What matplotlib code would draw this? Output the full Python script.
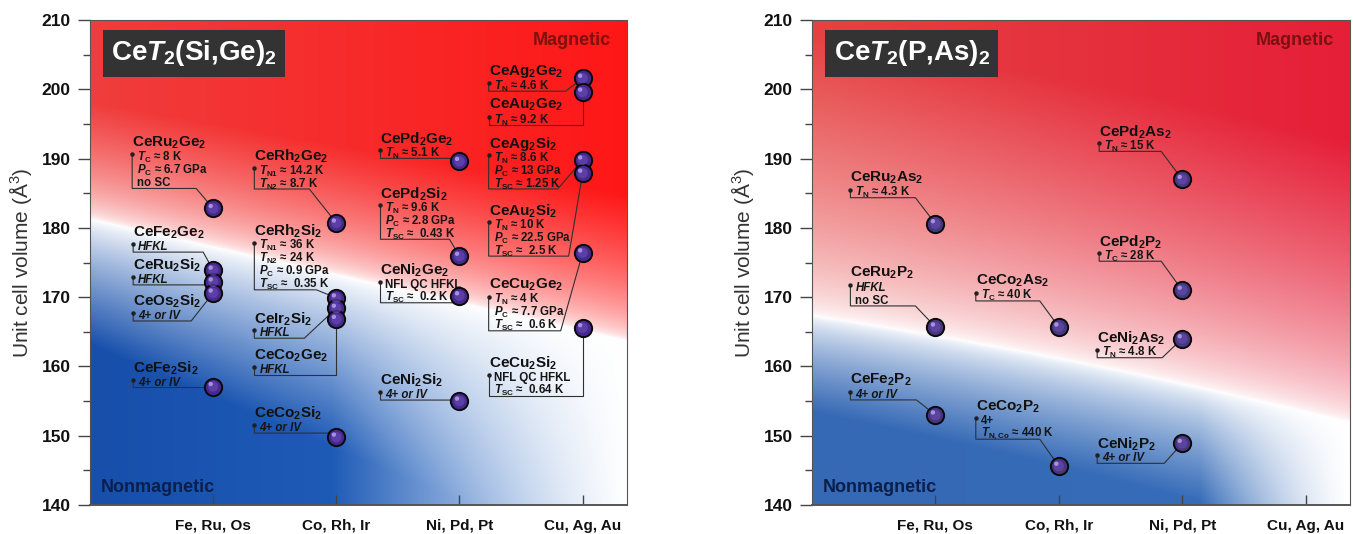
import numpy as np
import matplotlib.pyplot as plt
import matplotlib.transforms as mtransforms
from matplotlib import font_manager
from matplotlib.ticker import MultipleLocator

plt.rcParams['font.family'] = ['Liberation Sans', 'DejaVu Sans']
plt.rcParams['mathtext.fontset'] = 'custom'
plt.rcParams['mathtext.default'] = 'regular'
plt.rcParams['mathtext.it'] = 'Liberation Sans:italic:bold'
plt.rcParams['mathtext.rm'] = 'Liberation Sans'
plt.rcParams['mathtext.bf'] = 'Liberation Sans:bold'

installed = {f.name for f in font_manager.fontManager.ttflist}
NOTE_FONT = 'Liberation Sans Narrow' if 'Liberation Sans Narrow' in installed else 'Liberation Sans'

groups = ["Fe, Ru, Os", "Co, Rh, Ir", "Ni, Pd, Pt", "Cu, Ag, Au"]

# ---- CeT2(Si,Ge)2 ----
sige_names = ["CeRu$_2$Ge$_2$", "CeFe$_2$Ge$_2$", "CeRu$_2$Si$_2$", "CeOs$_2$Si$_2$", "CeFe$_2$Si$_2$",
              "CeRh$_2$Ge$_2$", "CeRh$_2$Si$_2$", "CeIr$_2$Si$_2$", "CeCo$_2$Ge$_2$", "CeCo$_2$Si$_2$",
              "CePd$_2$Ge$_2$", "CePd$_2$Si$_2$", "CeNi$_2$Ge$_2$", "CeNi$_2$Si$_2$",
              "CeAg$_2$Ge$_2$", "CeAu$_2$Ge$_2$", "CeAg$_2$Si$_2$", "CeAu$_2$Si$_2$",
              "CeCu$_2$Ge$_2$", "CeCu$_2$Si$_2$"]
sige_group = [1, 1, 1, 1, 1, 2, 2, 2, 2, 2, 3, 3, 3, 3, 4, 4, 4, 4, 4, 4]
sige_volume = [182.8, 173.9, 172.2, 170.6, 157.1,
               180.7, 169.9, 168.4, 166.8, 149.8,
               189.6, 175.9, 170.2, 155.0,
               201.6, 199.6, 189.8, 187.9, 176.4, 165.6]
sige_notes = [
    [r"$\mathit{T}_C$ ≈ 8 K", r"$\mathit{P}_C$ ≈ 6.7 GPa", "no SC"],
    ["HFKL"], ["HFKL"], ["4+ or IV"], ["4+ or IV"],
    [r"$\mathit{T}_{N1}$ ≈ 14.2 K", r"$\mathit{T}_{N2}$ ≈ 8.7 K"],
    [r"$\mathit{T}_{N1}$ ≈ 36 K", r"$\mathit{T}_{N2}$ ≈ 24 K", r"$\mathit{P}_C$ ≈ 0.9 GPa", r"$\mathit{T}_{SC}$ ≈  0.35 K"],
    ["HFKL"], ["HFKL"], ["4+ or IV"],
    [r"$\mathit{T}_N$ ≈ 5.1 K"],
    [r"$\mathit{T}_N$ ≈ 9.6 K", r"$\mathit{P}_C$ ≈ 2.8 GPa", r"$\mathit{T}_{SC}$ ≈  0.43 K"],
    ["NFL QC HFKL", r"$\mathit{T}_{SC}$ ≈  0.2 K"],
    ["4+ or IV"],
    [r"$\mathit{T}_N$ ≈ 4.6 K"], [r"$\mathit{T}_N$ ≈ 9.2 K"],
    [r"$\mathit{T}_N$ ≈ 8.6 K", r"$\mathit{P}_C$ ≈ 13 GPa", r"$\mathit{T}_{SC}$ ≈ 1.25 K"],
    [r"$\mathit{T}_N$ ≈ 10 K", r"$\mathit{P}_C$ ≈ 22.5 GPa", r"$\mathit{T}_{SC}$ ≈  2.5 K"],
    [r"$\mathit{T}_N$ ≈ 4 K", r"$\mathit{P}_C$ ≈ 7.7 GPa", r"$\mathit{T}_{SC}$ ≈  0.6 K"],
    ["NFL QC HFKL", r"$\mathit{T}_{SC}$ ≈  0.64 K"],
]

# ---- CeT2(P,As)2 ----
pas_names = ["CeRu$_2$As$_2$", "CeRu$_2$P$_2$", "CeFe$_2$P$_2$", "CeCo$_2$As$_2$", "CeCo$_2$P$_2$",
             "CePd$_2$As$_2$", "CePd$_2$P$_2$", "CeNi$_2$As$_2$", "CeNi$_2$P$_2$"]
pas_group = [1, 1, 1, 2, 2, 3, 3, 3, 3]
pas_volume = [180.6, 165.7, 153.0, 165.7, 145.6, 187.0, 171.0, 164.0, 148.9]
pas_notes = [
    [r"$\mathit{T}_N$ ≈ 4.3 K"], ["HFKL", "no SC"], ["4+ or IV"],
    [r"$\mathit{T}_C$ ≈ 40 K"], ["4+", r"$\mathit{T}_{N,Co}$ ≈ 440 K"],
    [r"$\mathit{T}_N$ ≈ 15 K"], [r"$\mathit{T}_C$ ≈ 28 K"], [r"$\mathit{T}_N$ ≈ 4.8 K"], ["4+ or IV"],
]

# label layout: (name x offset, name top offset, elbow x offset) in pixels from the dot
sige_layout = [(-81, -74, -17), (-80, -46, -10), (-80, -25, -8), (-80, 0, -22), (-80, -27, -8),
               (-82, -75, -27), (-82, -75, -20), (-82, 2, -32), (-82, 28, 0), (-82, -32, -8),
               (-79, -31, -8), (-79, -71, -10), (-79, -34, -6), (-79, -29, -8),
               (-94, -15, -17), (-94, 5, 0), (-94, -25, -25), (-94, 29, -14), (-94, 24, -22), (-94, 27, 0)]
pas_layout = [(-85, -54, -20), (-85, -62, -20), (-85, -43, -19),
              (-83, -54, -19), (-83, -68, -19),
              (-83, -56, -21), (-83, -57, -21), (-85, -9, -20), (-85, -8, -18)]

ITALIC_NOTES = {"HFKL", "4+ or IV"}


def background(kind, n=400):
    U, V = np.meshgrid(np.linspace(0, 1, n), np.linspace(0, 1, n))
    if kind == 'sige':
        s = V - (0.59 - 0.25 * U)
        wr = np.clip(s / (0.24 + 0.06 * U), 0, 1) ** 0.55
        wb = np.clip(-s / (0.26 + 0.22 * U), 0, 1) ** 0.8
        wb = wb * (1 - np.clip((U - 0.45) / 0.55, 0, 1)) ** 1.1
        red = np.stack([0.94 + 0.06 * U, 0.24 - 0.15 * U, 0.24 - 0.15 * U], -1)
        blue = np.stack([0.09 + 0.06 * U, 0.31 + 0.1 * U, 0.67 + 0.1 * U], -1)
    else:
        s = V - (0.39 - 0.17 * U - 0.05 * U ** 2)
        wr = np.clip(s / 0.58, 0, 1) ** 0.6
        wb = np.clip(-s / (0.2 + 0.05 * U), 0, 1) ** 0.7
        wb = wb * (1 - np.clip((U - 0.72) / 0.28, 0, 1)) ** 1.3
        red = np.stack([0.90 + 0.0 * U, 0.26 - 0.14 * U, 0.26 - 0.04 * U], -1)
        blue = np.stack([0.21 + 0.0 * U, 0.41 + 0.02 * U, 0.71 + 0.02 * U], -1)
    img = (1 - wr - wb)[..., None] * 1.0 + wr[..., None] * red + wb[..., None] * blue
    return np.clip(img, 0, 1)


def annotate(ax, x, y, name, notes, layout, name_size):
    ndx, ndy, elbow = layout
    tr = mtransforms.Affine2D().scale(1, -1) + mtransforms.ScaledTranslation(x, y, ax.transData)
    ax.text(ndx, ndy, name, transform=tr, fontsize=name_size, fontweight='bold',
            va='top', ha='left', color='#111111', zorder=6)
    top = ndy + 16
    for i, line in enumerate(notes):
        ax.text(ndx + 5, top + 13 * i + 7, line, transform=tr, fontsize=8.3,
                family=[NOTE_FONT, 'DejaVu Sans'], fontweight='bold',
                style='italic' if line in ITALIC_NOTES else 'normal',
                va='center', ha='left', color='#151515', zorder=6)
    bottom = ndy + 15 + 13 * len(notes)
    ax.plot([ndx, ndx, elbow, 0], [top + 4, bottom, bottom, 0], transform=tr,
            color='#303030', lw=0.8, zorder=4, solid_capstyle='butt')
    ax.plot([ndx], [top + 4], 'o', ms=2.2, color='#202020', transform=tr, zorder=4)


def draw_panel(ax, title, names, group, volume, notes, layout, kind, dot_color):
    ax.set_xlim(0, 4.36)
    ax.set_ylim(140, 210)
    ax.imshow(background(kind), extent=(0, 4.36, 140, 210), origin='lower',
              aspect='auto', interpolation='bilinear', zorder=0)

    for i in range(len(names)):
        annotate(ax, group[i], volume[i], names[i], notes[i], layout[i], 11)

    ax.scatter(group, volume, s=155, color=dot_color, edgecolor='#0a0a0a', linewidth=1.4, zorder=7)
    ax.scatter(group, volume, s=55, color='#6a4fb8', edgecolor='none', alpha=0.6, zorder=8)
    hl = mtransforms.offset_copy(ax.transData, fig=ax.figure, x=-2.5, y=2.5, units='dots')
    ax.scatter(group, volume, s=10, color='#b9a8ee', edgecolor='none', alpha=0.8, zorder=9, transform=hl)

    ax.text(0.04, 0.962, title, transform=ax.transAxes, fontsize=20, fontweight='bold',
            color='white', va='top', ha='left', zorder=10,
            bbox=dict(boxstyle='square,pad=0.3', facecolor='#333333', edgecolor='none'))
    ax.text(0.97, 0.975, "Magnetic", transform=ax.transAxes, fontsize=13, fontweight='bold',
            color='#7d1010', va='top', ha='right', zorder=10)
    ax.text(0.02, 0.018, "Nonmagnetic", transform=ax.transAxes, fontsize=13, fontweight='bold',
            color='#0c1e4a', va='bottom', ha='left', zorder=10)

    ax.set_xticks([1, 2, 3, 4])
    ax.set_xticklabels(groups, fontsize=11, fontweight='bold')
    ax.yaxis.set_major_locator(MultipleLocator(10))
    ax.yaxis.set_minor_locator(MultipleLocator(5))
    for lbl in ax.get_yticklabels():
        lbl.set_fontweight('bold')
    ax.tick_params(axis='y', which='major', direction='out', length=9, width=1, labelsize=12.5,
                   colors='#444444', labelcolor='#111111', pad=5)
    ax.tick_params(axis='y', which='minor', direction='out', length=5, width=1, colors='#444444')
    ax.tick_params(axis='x', direction='in', length=7, width=1, colors='#444444',
                   labelcolor='#111111', pad=10)
    for side in ['top', 'right', 'left', 'bottom']:
        ax.spines[side].set_color('#555555')
    ax.spines['bottom'].set_linewidth(1.4)
    ax.set_ylabel("Unit cell volume (Å$^3$)", fontsize=15, color='#333333', labelpad=5)


fig = plt.figure(figsize=(13.53, 5.34), dpi=100)
ax1 = fig.add_axes([90 / 1353, 29 / 534, 537 / 1353, 485 / 534])
ax2 = fig.add_axes([812 / 1353, 29 / 534, 538 / 1353, 485 / 534])

draw_panel(ax1, r"Ce$\mathit{T}_2$(Si,Ge)$_2$", sige_names, sige_group, sige_volume,
           sige_notes, sige_layout, 'sige', '#46288f')
draw_panel(ax2, r"Ce$\mathit{T}_2$(P,As)$_2$", pas_names, pas_group, pas_volume,
           pas_notes, pas_layout, 'pas', '#46367e')

fig.savefig("out.png", dpi=100)
